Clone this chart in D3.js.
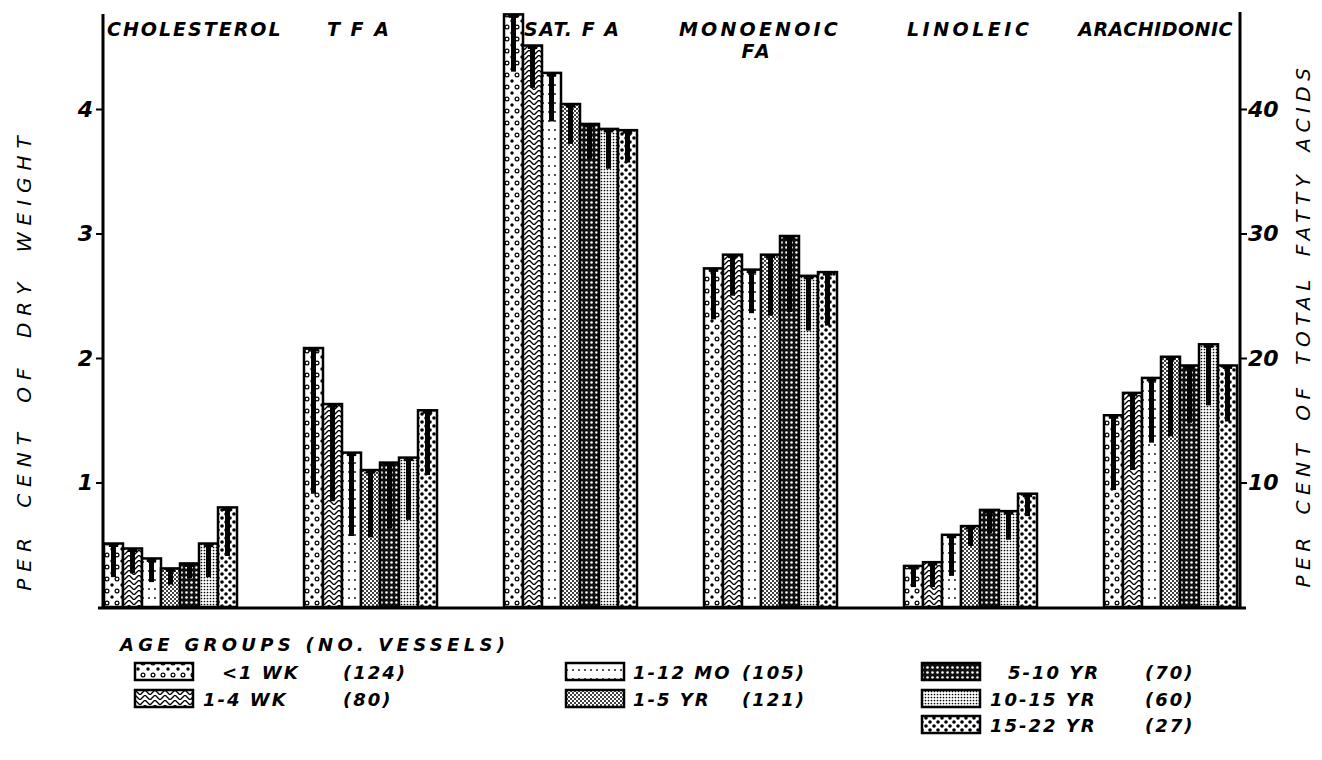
<!DOCTYPE html>
<html>
<head>
<meta charset="utf-8">
<title>Lipids by age group</title>
<script src="https://d3js.org/d3.v7.min.js"></script>
<style>
body { margin: 0; background: #fff; }
svg text { font-family: "DejaVu Sans", sans-serif; font-style: italic; fill: #000; }
.lbl { font-size: 19px; font-weight: bold; letter-spacing: 2px; }
.tick-lbl { font-size: 22px; font-weight: bold; }
.title { font-size: 20px; letter-spacing: 7px; word-spacing: 10px; }
.leg { font-size: 18px; font-weight: bold; letter-spacing: 2px; }
</style>
</head>
<body>
<svg id="chart" width="1322" height="760"></svg>
<script>
// categories
var groups = ["CHOLESTEROL", "T F A", "SAT. F A", "MONOENOIC", "LINOLEIC", "ARACHIDONIC"];
var ageGroups = ["<1 WK", "1-4 WK", "1-12 MO", "1-5 YR", "5-10 YR", "10-15 YR", "15-22 YR"];
var vessels = ["(124)", "(80)", "(105)", "(121)", "(70)", "(60)", "(27)"];

// per cent of dry weight (left axis)
var cholesterol    = [0.51, 0.47, 0.39, 0.31, 0.35, 0.51, 0.80];
var cholesterolLow = [0.24, 0.27, 0.20, 0.18, 0.23, 0.24, 0.41];
var tfa            = [2.08, 1.63, 1.24, 1.10, 1.16, 1.20, 1.58];
var tfaLow         = [0.91, 0.85, 0.57, 0.56, 0.63, 0.70, 1.06];
// per cent of total fatty acids (right axis)
var satFA      = [47.6, 45.1, 42.9, 40.4, 38.8, 38.4, 38.3];
var satLow     = [43.0, 41.7, 39.0, 37.2, 36.0, 35.2, 35.7];
var mono       = [27.2, 28.3, 27.1, 28.3, 29.8, 26.6, 26.9];
var monoLow    = [23.1, 25.0, 23.6, 23.4, 23.7, 22.2, 22.6];
var linoleic   = [3.3, 3.6, 5.8, 6.5, 7.8, 7.7, 9.1];
var linLow     = [1.6, 1.6, 2.5, 4.9, 5.9, 5.4, 7.3];
var arach      = [15.4, 17.2, 18.4, 20.1, 19.4, 21.1, 19.4];
var arachLow   = [9.4, 11.0, 13.2, 13.7, 14.8, 16.2, 14.9];

var leftTicks = [1, 2, 3, 4];
var rightTicks = [10, 20, 30, 40];

var series = [
  {g: groups[0], axis: "L", v: cholesterol, lo: cholesterolLow},
  {g: groups[1], axis: "L", v: tfa, lo: tfaLow},
  {g: groups[2], axis: "R", v: satFA, lo: satLow},
  {g: groups[3], axis: "R", v: mono, lo: monoLow},
  {g: groups[4], axis: "R", v: linoleic, lo: linLow},
  {g: groups[5], axis: "R", v: arach, lo: arachLow}
];

var svg = d3.select("#chart");
var x0L = 103, x1R = 1240, base = 607;

var x = d3.scaleBand().domain(groups).range([104, 1237]).paddingInner(0.335).paddingOuter(0);
var xi = d3.scaleBand().domain(d3.range(7)).range([0, x.bandwidth()]);
var yL = d3.scaleLinear().domain([0, 4]).range([base, 109]);
var yR = d3.scaleLinear().domain([0, 40]).range([base, 109]);

// ---- patterns
var defs = svg.append("defs");
function pat(id, w, h) {
  var p = defs.append("pattern").attr("id", id).attr("patternUnits", "userSpaceOnUse")
    .attr("width", w).attr("height", h);
  p.append("rect").attr("width", w).attr("height", h).attr("fill", "#fff");
  return p;
}
var p0 = pat("p0", 10, 12);
p0.append("circle").attr("cx", 3).attr("cy", 3).attr("r", 1.9).attr("fill", "#fff").attr("stroke", "#000").attr("stroke-width", 1.2);
p0.append("circle").attr("cx", 8).attr("cy", 9).attr("r", 1.7).attr("fill", "#000");
var p1 = pat("p1", 10, 5);
p1.append("path").attr("d", "M0,5L5,0L10,5M-5,0L0,5M10,5L15,0").attr("fill", "none").attr("stroke", "#000").attr("stroke-width", 1.4);
var p2 = pat("p2", 6, 9);
p2.append("circle").attr("cx", 3).attr("cy", 4).attr("r", 0.9).attr("fill", "#000");
var p3 = pat("p3", 4, 4);
p3.append("circle").attr("cx", 1).attr("cy", 1).attr("r", 1.0).attr("fill", "#000");
p3.append("circle").attr("cx", 3).attr("cy", 3).attr("r", 1.0).attr("fill", "#000");
var p4 = pat("p4", 5, 5);
p4.append("rect").attr("width", 5).attr("height", 5).attr("fill", "#111");
p4.append("circle").attr("cx", 2.5).attr("cy", 2.5).attr("r", 1.3).attr("fill", "#fff");
var p5 = pat("p5", 3, 3);
p5.append("circle").attr("cx", 1.5).attr("cy", 1.5).attr("r", 0.85).attr("fill", "#000");
var p6 = pat("p6", 8, 8);
p6.append("circle").attr("cx", 2).attr("cy", 2).attr("r", 1.8).attr("fill", "#000");
p6.append("circle").attr("cx", 6).attr("cy", 6).attr("r", 1.8).attr("fill", "#000");
var fills = ["url(#p0)", "url(#p1)", "url(#p2)", "url(#p3)", "url(#p4)", "url(#p5)", "url(#p6)"];

// ---- bars
var grp = svg.selectAll(".grp").data(series).enter().append("g")
  .attr("class", "grp")
  .attr("transform", d => "translate(" + x(d.g) + ",0)");

grp.each(function(s) {
  var y = s.axis === "L" ? yL : yR;
  var rows = s.v.map((v, i) => ({i: i, v: v, lo: s.lo[i]}));
  var g = d3.select(this);
  g.selectAll("rect").data(rows).enter().append("rect")
    .attr("x", d => xi(d.i))
    .attr("y", d => y(d.v))
    .attr("width", xi.bandwidth())
    .attr("height", d => base - y(d.v))
    .attr("fill", d => fills[d.i])
    .attr("stroke", "#000")
    .attr("stroke-width", 2.5);
  // lower standard deviation bars
  g.selectAll(".err").data(rows).enter().append("line")
    .attr("class", "err")
    .attr("x1", d => xi(d.i) + xi.bandwidth() / 2)
    .attr("x2", d => xi(d.i) + xi.bandwidth() / 2)
    .attr("y1", d => y(d.v))
    .attr("y2", d => y(d.lo))
    .attr("stroke", "#000").attr("stroke-width", 5);
  g.selectAll(".cap").data(rows).enter().append("line")
    .attr("class", "cap")
    .attr("x1", d => xi(d.i) + xi.bandwidth() * 0.25)
    .attr("x2", d => xi(d.i) + xi.bandwidth() * 0.75)
    .attr("y1", d => y(d.v) + 2)
    .attr("y2", d => y(d.v) + 2)
    .attr("stroke", "#000").attr("stroke-width", 3);
});

// ---- axes
svg.append("line").attr("x1", 98).attr("x2", 1246).attr("y1", base + 1).attr("y2", base + 1)
  .attr("stroke", "#000").attr("stroke-width", 3);
svg.append("line").attr("x1", x0L).attr("x2", x0L).attr("y1", 14).attr("y2", base + 2)
  .attr("stroke", "#000").attr("stroke-width", 3);
svg.append("line").attr("x1", x1R).attr("x2", x1R).attr("y1", 12).attr("y2", base + 2)
  .attr("stroke", "#000").attr("stroke-width", 3);

var la = svg.append("g").attr("transform", "translate(" + x0L + ",0)")
  .call(d3.axisLeft(yL).tickValues(leftTicks).tickSize(7).tickPadding(3).tickFormat(d3.format("d")));
la.select(".domain").remove();
la.selectAll("line").attr("stroke-width", 2);
la.selectAll("text").attr("class", "tick-lbl").attr("font-size", null).attr("font-family", null);

var ra = svg.append("g").attr("transform", "translate(" + x1R + ",0)")
  .call(d3.axisRight(yR).tickValues(rightTicks).tickSize(7).tickPadding(1).tickFormat(d3.format("d")));
ra.select(".domain").remove();
ra.selectAll("line").attr("stroke-width", 2);
ra.selectAll("text").attr("class", "tick-lbl").attr("font-size", null).attr("font-family", null);

// axis titles
svg.append("text").attr("class", "title")
  .attr("transform", "translate(31,360) rotate(-90)")
  .attr("text-anchor", "middle").text("PER CENT OF DRY WEIGHT");
svg.append("text").attr("class", "title").style("letter-spacing", "5.5px").style("word-spacing", "6px")
  .attr("transform", "translate(1310,325) rotate(-90)")
  .attr("text-anchor", "middle").text("PER CENT OF TOTAL FATTY ACIDS");

// ---- group labels
var labelPos = [
  {t: groups[0], x: 107, y: 36, a: "start", s: 2},
  {t: groups[1], x: 327, y: 36, a: "start", s: 2},
  {t: groups[2], x: 524, y: 36, a: "start", s: 1.5},
  {t: groups[3], x: 760, y: 36, a: "middle", s: 3.2},
  {t: "FA", x: 757, y: 58, a: "middle", s: 3},
  {t: groups[4], x: 907, y: 36, a: "start", s: 3.5},
  {t: groups[5], x: 1233, y: 36, a: "end", s: 0.5}
];
svg.selectAll(".glbl").data(labelPos).enter().append("text")
  .attr("class", "lbl glbl")
  .attr("x", d => d.x).attr("y", d => d.y)
  .attr("text-anchor", d => d.a)
  .style("letter-spacing", d => d.s + "px")
  .text(d => d.t);

// ---- legend
svg.append("text").attr("class", "leg").style("letter-spacing", "4.3px")
  .attr("x", 120).attr("y", 651).text("AGE GROUPS (NO. VESSELS)");

var legPos = [
  {sx: 135, y: 663, tx: 222, nx: 343},
  {sx: 135, y: 690, tx: 203, nx: 343},
  {sx: 566, y: 663, tx: 633, nx: 742},
  {sx: 566, y: 690, tx: 633, nx: 742},
  {sx: 922, y: 663, tx: 1008, nx: 1145},
  {sx: 922, y: 690, tx: 990, nx: 1145},
  {sx: 922, y: 716, tx: 990, nx: 1145}
];
var leg = svg.selectAll(".legi").data(ageGroups).enter().append("g").attr("class", "legi");
leg.append("rect")
  .attr("x", (d, i) => legPos[i].sx).attr("y", (d, i) => legPos[i].y)
  .attr("width", 58).attr("height", 17)
  .attr("fill", (d, i) => fills[i]).attr("stroke", "#000").attr("stroke-width", 2.5);
leg.append("text").attr("class", "leg")
  .attr("x", (d, i) => legPos[i].tx).attr("y", (d, i) => legPos[i].y + 16)
  .text(d => d);
leg.append("text").attr("class", "leg")
  .attr("x", (d, i) => legPos[i].nx).attr("y", (d, i) => legPos[i].y + 16)
  .text((d, i) => vessels[i]);
</script>
</body>
</html>
